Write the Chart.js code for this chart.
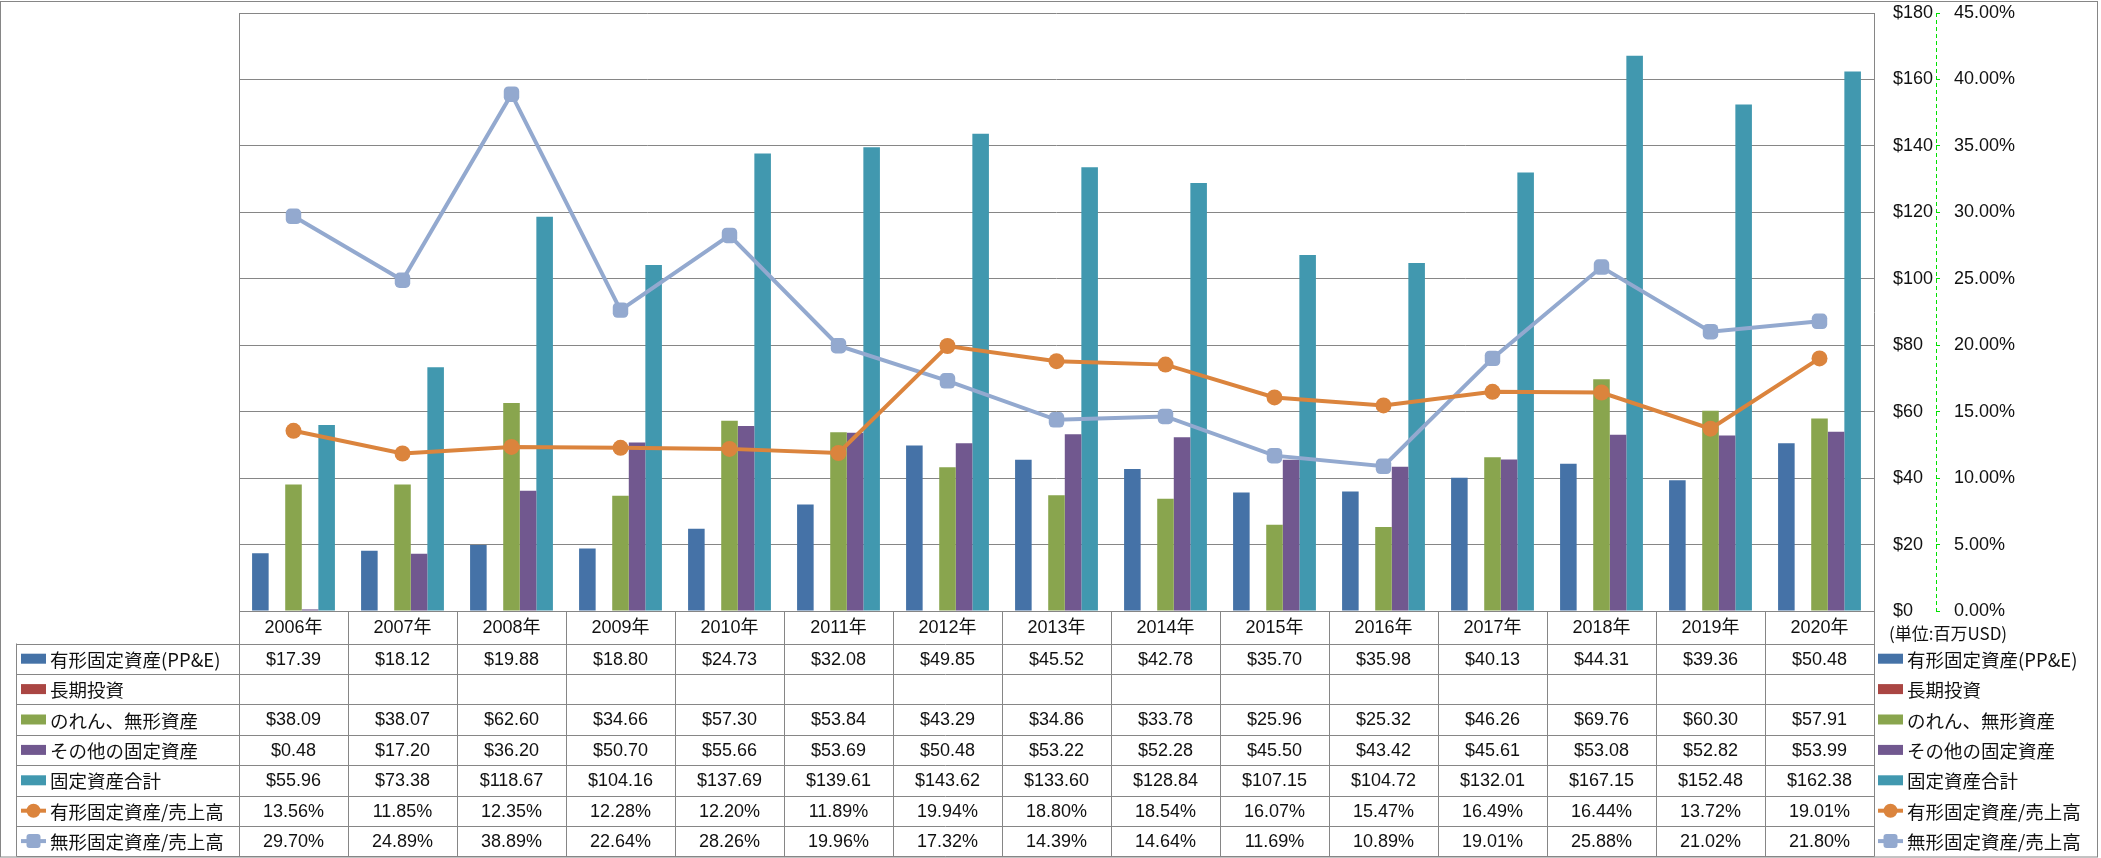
<!DOCTYPE html>
<html lang="ja">
<head>
<meta charset="utf-8">
<title>固定資産の推移</title>
<script src="https://cdn.jsdelivr.net/npm/chart.js@4.4.1/dist/chart.umd.min.js"></script>
<style>
  html, body { margin:0; padding:0; background:#fff; }
  #wrap { width:2101px; height:858px; }
</style>
</head>
<body>
<div id="wrap"><canvas id="c" width="2101" height="858"></canvas></div>
<script>
// ── Data (百万USD / %) ───────────────────────────────────
const YEARS = ["2006年","2007年","2008年","2009年","2010年","2011年","2012年","2013年",
               "2014年","2015年","2016年","2017年","2018年","2019年","2020年"];

const PPE      = [17.39,18.12,19.88,18.80,24.73,32.08,49.85,45.52,42.78,35.70,35.98,40.13,44.31,39.36,50.48];
const LT_INV   = [null,null,null,null,null,null,null,null,null,null,null,null,null,null,null];
const GOODWILL = [38.09,38.07,62.60,34.66,57.30,53.84,43.29,34.86,33.78,25.96,25.32,46.26,69.76,60.30,57.91];
const OTHER_FA = [0.48,17.20,36.20,50.70,55.66,53.69,50.48,53.22,52.28,45.50,43.42,45.61,53.08,52.82,53.99];
const TOTAL_FA = [55.96,73.38,118.67,104.16,137.69,139.61,143.62,133.60,128.84,107.15,104.72,132.01,167.15,152.48,162.38];
const PPE_RATIO  = [13.56,11.85,12.35,12.28,12.20,11.89,19.94,18.80,18.54,16.07,15.47,16.49,16.44,13.72,19.01];
const INTG_RATIO = [29.70,24.89,38.89,22.64,28.26,19.96,17.32,14.39,14.64,11.69,10.89,19.01,25.88,21.02,21.80];

const USD_TICKS = [0,20,40,60,80,100,120,140,160,180];
const PCT_TICKS = [0,5,10,15,20,25,30,35,40,45];

const C_BLUE="#4572A7", C_RED="#AA4643", C_GREEN="#89A54E", C_PURPLE="#71588F",
      C_TEAL="#4198AF", C_ORANGE="#DB843D", C_LBLUE="#93A9CF", C_GRID="#868686", C_AXIS2="#00e000";

const FONT_NUM = '"Liberation Sans","Noto Sans CJK JP",sans-serif';
const FONT_JP  = '"Noto Sans CJK JP","Liberation Sans",sans-serif';

const fmtUsd = v => v==null ? "" : "$" + v.toFixed(2);
const fmtPct = v => v==null ? "" : v.toFixed(2) + "%";

// rows of the data table, in the same order as the legend
const ROWS = [
  { name:"有形固定資産(PP&E)", color:C_BLUE,   data:PPE,        fmt:fmtUsd, kind:"bar" },
  { name:"長期投資",           color:C_RED,    data:LT_INV,     fmt:fmtUsd, kind:"bar" },
  { name:"のれん、無形資産",   color:C_GREEN,  data:GOODWILL,   fmt:fmtUsd, kind:"bar" },
  { name:"その他の固定資産",   color:C_PURPLE, data:OTHER_FA,   fmt:fmtUsd, kind:"bar" },
  { name:"固定資産合計",       color:C_TEAL,   data:TOTAL_FA,   fmt:fmtUsd, kind:"bar" },
  { name:"有形固定資産/売上高", color:C_ORANGE, data:PPE_RATIO,  fmt:fmtPct, kind:"circle" },
  { name:"無形固定資産/売上高", color:C_LBLUE,  data:INTG_RATIO, fmt:fmtPct, kind:"square" },
];

// ── Legend key drawing ───────────────────────────────────
function drawKey(ctx, row, x, yc) {
  ctx.save();
  if (row.kind === "bar") {
    ctx.fillStyle = row.color;
    ctx.fillRect(x, yc-5, 25, 10);
  } else {
    ctx.strokeStyle = row.color; ctx.lineWidth = 4;
    ctx.beginPath(); ctx.moveTo(x, yc); ctx.lineTo(x+25, yc); ctx.stroke();
    ctx.fillStyle = row.color;
    ctx.beginPath();
    if (row.kind === "circle") ctx.arc(x+12.5, yc, 7, 0, Math.PI*2);
    else ctx.roundRect(x+5.5, yc-7, 14, 14, 3);
    ctx.fill();
  }
  ctx.restore();
}

// ── Data table under the plot ────────────────────────────
const tablePlugin = {
  id: "dataTable",
  beforeDraw(chart) {
    const ctx = chart.ctx;
    ctx.save(); ctx.fillStyle = "#fff"; ctx.fillRect(0,0,chart.width,chart.height); ctx.restore();
  },
  beforeDatasetsDraw(chart) {
    const ctx = chart.ctx, a = chart.chartArea, y1 = chart.scales.y1;
    ctx.save();
    ctx.strokeStyle = C_GRID; ctx.lineWidth = 1;
    ctx.beginPath(); ctx.moveTo(Math.round(a.left)+0.5, a.top); ctx.lineTo(Math.round(a.left)+0.5, a.bottom); ctx.stroke();
    // dashed secondary axis line
    const ax = Math.round(y1.left) + 0.5;
    ctx.strokeStyle = C_AXIS2; ctx.setLineDash([4,3]);
    ctx.beginPath(); ctx.moveTo(ax, y1.top); ctx.lineTo(ax, y1.bottom); ctx.stroke();
    ctx.restore();
  },
  afterDraw(chart) {
    const ctx = chart.ctx, a = chart.chartArea, xs = chart.scales.x;
    const n = YEARS.length, colW = (a.right - a.left) / n;
    const top = Math.round(a.bottom) + 0.5, hdrH = 32, rowH = 30.4, labL = 16.5;
    const bottom = top + hdrH + rowH * ROWS.length;
    const L = Math.round(a.left) + 0.5, R = Math.round(a.right) + 0.5;

    ctx.save();
    ctx.strokeStyle = C_GRID; ctx.lineWidth = 1;
    ctx.beginPath();
    // horizontal lines
    ctx.moveTo(L, top); ctx.lineTo(R, top);
    for (let r = 0; r <= ROWS.length; r++) {
      const y = Math.round(top + hdrH + r*rowH) + 0.5;
      ctx.moveTo(labL, y); ctx.lineTo(R, y);
    }
    // vertical lines
    for (let i = 0; i <= n; i++) {
      const x = Math.round(a.left + i*colW) + 0.5;
      ctx.moveTo(x, top); ctx.lineTo(x, bottom);
    }
    ctx.moveTo(labL, top + hdrH); ctx.lineTo(labL, bottom);
    ctx.stroke();

    ctx.textBaseline = "middle"; ctx.fillStyle = "#111";
    // header
    ctx.font = "18px " + FONT_NUM; ctx.textAlign = "center";
    YEARS.forEach((yr, i) => ctx.fillText(yr, xs.getPixelForValue(i), top + hdrH/2 + 1));

    ROWS.forEach((row, r) => {
      const yc = top + hdrH + r*rowH + rowH/2 + 1;
      ctx.font = "18px " + FONT_NUM; ctx.textAlign = "center"; ctx.fillStyle = "#111";
      row.data.forEach((v, i) => ctx.fillText(row.fmt(v), xs.getPixelForValue(i), yc));
      // left labels
      drawKey(ctx, row, 21, yc - 1);
      ctx.font = "18.5px " + FONT_JP; ctx.textAlign = "left"; ctx.fillStyle = "#111";
      ctx.fillText(row.name, 50, yc);
      // right legend
      drawKey(ctx, row, 1878, yc - 1);
      ctx.fillText(row.name, 1907, yc);
    });

    ctx.font = "17px " + FONT_JP; ctx.textAlign = "left";
    ctx.fillText("(単位:百万USD)", 1889, top + 22);

    // chart frame
    ctx.strokeStyle = C_GRID;
    ctx.strokeRect(0.5, 1.5, 2097, 855.5);
    ctx.restore();
  }
};

// ── Chart ────────────────────────────────────────────────
new Chart(document.getElementById("c"), {
  data: {
    labels: YEARS,
    datasets: [
      { type:"line", label:ROWS[5].name, data:PPE_RATIO, yAxisID:"y1", order:1,
        borderColor:C_ORANGE, backgroundColor:C_ORANGE, borderWidth:4,
        pointStyle:"circle", pointRadius:8, pointBorderWidth:0 },
      { type:"line", label:ROWS[6].name, data:INTG_RATIO, yAxisID:"y1", order:1,
        borderColor:C_LBLUE, backgroundColor:C_LBLUE, borderWidth:4,
        pointStyle:"rectRounded", pointRadius:9, pointBorderWidth:0 },
      { type:"bar", label:ROWS[0].name, data:PPE,      backgroundColor:C_BLUE,   yAxisID:"y", order:2 },
      { type:"bar", label:ROWS[1].name, data:LT_INV,   backgroundColor:C_RED,    yAxisID:"y", order:2 },
      { type:"bar", label:ROWS[2].name, data:GOODWILL, backgroundColor:C_GREEN,  yAxisID:"y", order:2 },
      { type:"bar", label:ROWS[3].name, data:OTHER_FA, backgroundColor:C_PURPLE, yAxisID:"y", order:2 },
      { type:"bar", label:ROWS[4].name, data:TOTAL_FA, backgroundColor:C_TEAL,   yAxisID:"y", order:2 },
    ]
  },
  options: {
    responsive:false, animation:false, devicePixelRatio:1,
    layout:{ padding:{ left:239, right:0, top:13, bottom:247 } },
    datasets:{ bar:{ categoryPercentage:0.76, barPercentage:1.0 } },
    plugins:{ legend:{ display:false }, tooltip:{ enabled:false } },
    scales:{
      x:{ display:false, offset:true },
      y:{
        position:"right", min:0, max:180, weight:0,
        afterFit: s => { s.width = 62; s.paddingTop = 0; s.paddingBottom = 0; },
        afterBuildTicks: s => { s.ticks = USD_TICKS.map(v => ({ value:v })); },
        ticks:{ padding:19, color:"#111", font:{ family:FONT_NUM, size:18 }, callback: v => "$" + v },
        grid:{ color:C_GRID, drawTicks:false },
        border:{ display:true, color:C_GRID }
      },
      y1:{
        position:"right", min:0, max:45, weight:1,
        afterFit: s => { s.width = 165; s.paddingTop = 0; s.paddingBottom = 0; },
        afterBuildTicks: s => { s.ticks = PCT_TICKS.map(v => ({ value:v })); },
        ticks:{ padding:14, color:"#111", font:{ family:FONT_NUM, size:18 }, callback: v => v.toFixed(2) + "%" },
        grid:{ drawOnChartArea:false, drawTicks:true, tickLength:4, tickColor:C_AXIS2 },
        border:{ display:false }
      }
    }
  },
  plugins:[tablePlugin]
});
</script>
</body>
</html>
